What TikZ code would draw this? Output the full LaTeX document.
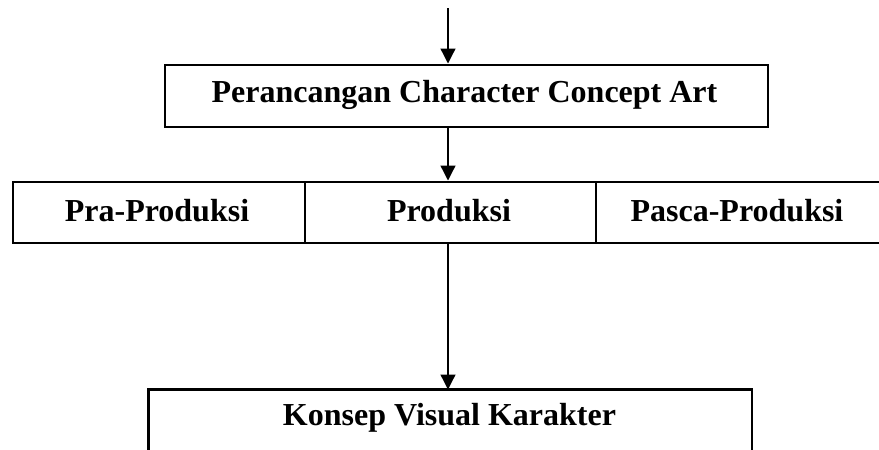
\documentclass[tikz,border=0pt]{standalone}
\usepackage{fontspec}
\setmainfont{Liberation Serif}
\usetikzlibrary{arrows.meta}
\begin{document}
\begin{tikzpicture}[x=1pt,y=-1pt,
  boxline/.style={draw=black,line width=2.8pt},
  lbl/.style={font=\fontsize{32}{36}\selectfont\bfseries,inner sep=0pt},
  arr/.style={draw=black,line width=1.3pt,-{Triangle[width=15pt,length=15pt]}}]
\useasboundingbox (0,0) rectangle (879,450);
\clip (0,0) rectangle (879,450);
% box 1
\node[boxline,minimum width=603pt,minimum height=62pt,anchor=north west,inner sep=0pt] (b1) at (163.5,63.5) {};
\node[lbl] (t1) at (464.5,95) {Perancangan Character Concept Art};
% row
\node[boxline,minimum width=292pt,minimum height=61pt,anchor=north west,inner sep=0pt] (r1) at (11.5,180.5) {};
\node[boxline,minimum width=291pt,minimum height=61pt,anchor=north west,inner sep=0pt] (r2) at (303.5,180.5) {};
\node[boxline,minimum width=300pt,minimum height=61pt,anchor=north west,inner sep=0pt] (r3) at (594.5,180.5) {};
\node[lbl] (t2) at (157,211) {Pra-Produksi};
\node[lbl] (t3) at (449,211) {Produksi};
\node[lbl] (t4) at (737,211) {Pasca-Produksi};
% box 3 (open at the bottom)
\node[minimum width=603pt,minimum height=80pt,anchor=north west,inner sep=0pt] (b3) at (148.5,389.5) {};
\draw[line width=2.8pt] ([yshift=-20pt]b3.south west) -- (b3.north west) -- (b3.north east) -- ([yshift=-20pt]b3.south east);
\node[lbl] (t5) at (449.5,418) {Konsep Visual Karakter};
% arrows
\coordinate (top) at (448,8);
\draw[arr] (top) -- (top |- b1.north);
\draw[arr] (top |- b1.south) -- (top |- r2.north);
\draw[arr] (top |- r2.south) -- (top |- b3.north);
\end{tikzpicture}
\end{document}
